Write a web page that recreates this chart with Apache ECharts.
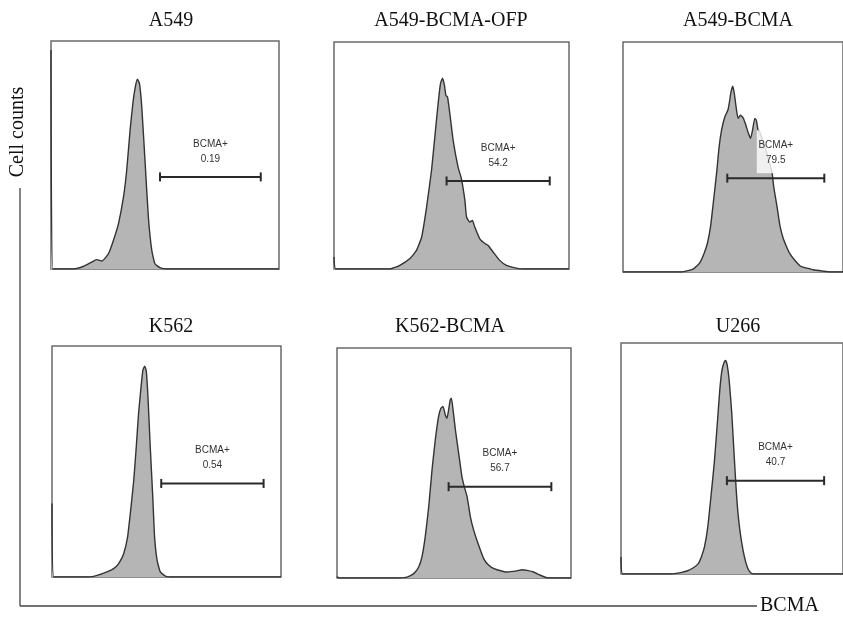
<!DOCTYPE html>
<html>
<head>
<meta charset="utf-8">
<style>
html,body{margin:0;padding:0;background:#fff;}
#chart{width:843px;height:617px;}
</style>
<script src="https://cdn.jsdelivr.net/npm/echarts@6/dist/echarts.min.js"></script>
</head>
<body>
<div id="chart"></div>
<script>
// ---- data (x: % of display range, y: % of panel height) ----
const titles = ['A549', 'A549-BCMA-OFP', 'A549-BCMA', 'K562', 'K562-BCMA', 'U266'];
const gateName = 'BCMA+';
const gateValues = ['0.19', '54.2', '79.5', '0.54', '56.7', '40.7'];
const gateLow = [47.8, 47.9, 47.4, 47.7, 47.7, 47.7];
const gateHigh = [92.0, 91.8, 91.5, 92.4, 91.6, 91.5];
const gateLevel = [40.4, 38.8, 40.8, 40.5, 39.7, 40.4];

const histA549 = [[0,96],[0.8,0],[9.9,0],[14.3,1.2],[18.7,3.5],[20.1,4.1],[22.3,3.5],[25.2,6.7],[27.4,12.6],[29.6,19.9],[31.8,31.6],[33.2,43.3],[34.7,61],[35.9,72.6],[36.9,79.4],[37.9,83.2],[38.8,81.4],[39.8,71.2],[41.3,46.4],[42.7,22.8],[44.2,8.2],[45.6,2.3],[47.8,0.6],[50.7,0],[100,0]];
const histA549OFP = [[0,5.3],[0.8,0],[23.8,0],[28.0,1.6],[32.3,4.6],[35.1,8.2],[37.3,14.1],[39.4,27.3],[41.5,43.5],[42.9,58.1],[44.3,72.8],[45.3,81.6],[46.2,84.1],[47.0,80.9],[47.6,76.5],[48.3,75.8],[49.3,68.4],[50.7,56.7],[52.8,44.9],[54.2,39.8],[55.7,30.2],[56.4,22.9],[57.8,20.7],[58.9,21.4],[59.9,18.5],[62.0,13.4],[64.2,11.2],[65.6,10.4],[67.7,7.5],[70.5,3.8],[73.4,1.6],[77.6,0.4],[80.5,0],[100,0]];
const histA549BCMA = [[0,0],[26.1,0],[31.9,1.3],[34.8,3.9],[36.9,8.2],[38.4,12.6],[39.8,19.8],[41.2,31.4],[42.7,44.4],[43.7,54.5],[44.8,61.7],[46.3,67.5],[47.7,70.4],[48.4,74.0],[49.1,78.3],[49.9,80.8],[50.6,77.6],[51.3,72.5],[52.3,66.8],[53.4,68.2],[54.5,67.2],[55.6,64.6],[57.0,60.3],[58.0,58.1],[58.9,61.7],[59.9,66.8],[60.6,66.0],[61.4,61.7],[62.1,61.0],[64.9,53.0],[67.8,42.9],[68.5,37.1],[70.0,28.5],[71.4,19.8],[72.8,14.7],[74.3,11.1],[75.7,8.2],[77.9,5.3],[80.7,2.5],[83.6,1.7],[86.5,1.0],[90.8,0.4],[94,0],[100,0]];
const histK562 = [[0,31.8],[0.8,0],[16.0,0],[19.7,0.7],[24.0,2.2],[26.9,3.6],[29.1,5.8],[31.3,10.1],[33.0,17.3],[34.2,27.5],[35.7,41.9],[36.8,56.4],[37.8,70.8],[38.9,82.4],[39.7,89.6],[40.5,91.3],[41.2,88.9],[41.9,78.0],[42.9,56.4],[44.0,34.7],[44.8,17.3],[45.9,7.2],[47.3,2.2],[49.5,0.4],[51.7,0],[100,0]];
const histK562BCMA = [[0,0.6],[1,0],[25.6,0],[29.9,0.4],[32.8,1.9],[34.9,4.8],[36.3,9.2],[37.7,17.9],[39.2,31.0],[40.6,46.9],[42.0,60.0],[43.4,70.2],[44.4,73.8],[45.3,74.6],[46.3,70.9],[47.0,69.5],[47.7,73.1],[48.4,77.5],[48.9,78.2],[49.6,73.1],[50.6,64.4],[52.0,54.2],[53.4,44.0],[54.4,39.7],[55.6,35.3],[57.0,26.6],[58.4,20.8],[59.8,16.4],[61.3,12.1],[62.7,8.4],[64.1,6.3],[66.2,4.5],[68.4,3.6],[72.6,2.6],[76.9,3.1],[79.1,3.6],[81.2,3.3],[84.0,2.6],[86.9,1.2],[89.7,0.1],[92.6,0],[100,0]];
const histU266 = [[0,7.4],[0.8,0],[22.6,0],[26.9,0.6],[29.7,1.3],[32.6,2.7],[34.8,4.5],[36.2,7.4],[37.6,11.7],[39.1,20.4],[40.5,33.4],[42.0,47.9],[43.4,65.3],[44.5,79.7],[45.5,88.4],[46.6,92.0],[47.1,92.5],[47.8,90.6],[48.7,84.1],[49.9,69.6],[51.0,50.8],[52.0,34.9],[53.0,23.3],[54.2,14.6],[55.6,7.4],[57.0,2.7],[58.5,0.4],[59.9,0],[100,0]];
const histograms = [histA549, histA549OFP, histA549BCMA, histK562, histK562BCMA, histU266];

// ---- layout (pixels) ----
const panels = [
  {left: 51, top: 41, width: 228, height: 228},
  {left: 334, top: 42, width: 235, height: 227},
  {left: 623, top: 42, width: 232, height: 230},
  {left: 52, top: 346, width: 229, height: 231},
  {left: 337, top: 348, width: 234, height: 230},
  {left: 621, top: 343, width: 232, height: 231}
];
const titlePos = [[166, 6], [446, 6], [733, 6], [166, 312], [445, 312], [733, 312]];

const serif = '"Liberation Serif", "DejaVu Serif", serif';
const sans = '"Liberation Sans", Arial, sans-serif';

const chart = echarts.init(document.getElementById('chart'), null, {renderer: 'canvas'});

const grid = [], xAxis = [], yAxis = [], series = [], title = [];
panels.forEach((p, i) => {
  grid.push({left: p.left, top: p.top, width: p.width, height: p.height,
    show: true, borderColor: '#6a6a6a', borderWidth: 1.5, backgroundColor: '#fff', containLabel: false});
  xAxis.push({type: 'value', gridIndex: i, min: 0, max: 100, show: false});
  yAxis.push({type: 'value', gridIndex: i, min: 0, max: 100, show: false});
  title.push({text: titles[i], left: titlePos[i][0], top: titlePos[i][1], textAlign: 'center',
    textStyle: {fontFamily: serif, fontSize: 20, fontWeight: 'normal', color: '#111'}});
  series.push({
    type: 'line', xAxisIndex: i, yAxisIndex: i, data: histograms[i],
    symbol: 'none', smooth: 0.15, silent: true,
    lineStyle: {color: '#333', width: 1.4},
    areaStyle: {color: '#b5b5b5', opacity: 1},
    z: 2
  });
  series.push({
    type: 'custom', xAxisIndex: i, yAxisIndex: i, silent: true, z: 5,
    data: [[gateLow[i], gateHigh[i], gateLevel[i]]],
    renderItem: function (params, api) {
      const a = api.coord([api.value(0), api.value(2)]);
      const b = api.coord([api.value(1), api.value(2)]);
      const cx = (a[0] + b[0]) / 2;
      const y = a[1];
      const st = {stroke: '#2a2a2a', lineWidth: 2};
      return {type: 'group', children: [
        {type: 'rect', shape: {x: cx - 19, y: y - 48, width: 38, height: 43},
          style: {fill: 'rgba(255,255,255,0.8)'}},
        {type: 'line', shape: {x1: a[0], y1: y, x2: b[0], y2: y}, style: st},
        {type: 'line', shape: {x1: a[0], y1: y - 4.5, x2: a[0], y2: y + 4.5}, style: st},
        {type: 'line', shape: {x1: b[0], y1: y - 4.5, x2: b[0], y2: y + 4.5}, style: st},
        {type: 'text', style: {text: gateName, x: cx, y: y - 33, align: 'center', verticalAlign: 'middle',
          font: '10px ' + sans, fill: '#333'}},
        {type: 'text', style: {text: gateValues[i], x: cx, y: y - 18, align: 'center', verticalAlign: 'middle',
          font: '10px ' + sans, fill: '#333'}}
      ]};
    }
  });
});

chart.setOption({
  animation: false,
  backgroundColor: '#fff',
  title: title,
  grid: grid,
  xAxis: xAxis,
  yAxis: yAxis,
  series: series,
  graphic: [
    {type: 'line', shape: {x1: 20, y1: 188, x2: 20, y2: 606}, style: {stroke: '#444', lineWidth: 1.3}},
    {type: 'line', shape: {x1: 20, y1: 606, x2: 757, y2: 606}, style: {stroke: '#444', lineWidth: 1.3}},
    {type: 'text', x: 18, y: 132, rotation: Math.PI / 2,
      style: {text: 'Cell counts', font: '20px ' + serif, fill: '#111', align: 'center', verticalAlign: 'middle'}},
    {type: 'text', x: 760, y: 606,
      style: {text: 'BCMA', font: '20px ' + serif, fill: '#111', align: 'left', verticalAlign: 'middle'}}
  ]
});
</script>
</body>
</html>
